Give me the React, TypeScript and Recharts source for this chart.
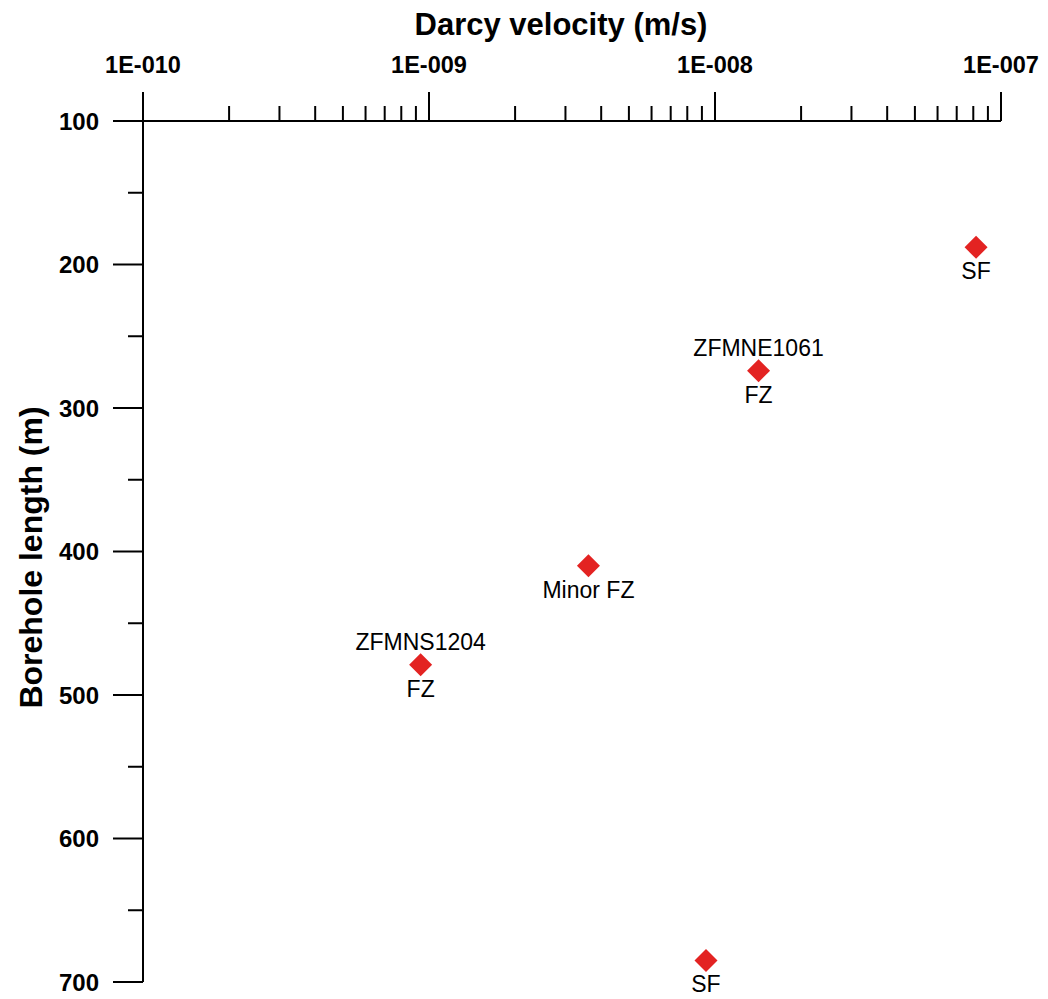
import React from "react";
import { ScatterChart, Scatter, XAxis, YAxis } from "recharts";

// Darcy velocity (m/s) per measured section
const velocity = [8.18e-8, 1.42e-8, 3.61e-9, 9.35e-10, 9.3e-9];
// Borehole length (m)
const boreholeLength = [188, 274, 410, 479, 685];
// Structure names written above the markers
const structureName = ["", "ZFMNE1061", "", "ZFMNS1204", ""];
// Feature types written below the markers
const featureType = ["SF", "FZ", "Minor FZ", "FZ", "SF"];

const xMajorTicks = [1e-10, 1e-9, 1e-8, 1e-7];
const xTickLabels = ["1E-010", "1E-009", "1E-008", "1E-007"];
const yMajorTicks = [100, 200, 300, 400, 500, 600, 700];
const yMinorTicks = [150, 250, 350, 450, 550, 650];

const FONT = "'Liberation Sans', Arial, Helvetica, sans-serif";
const RED = "#e32322";

const points = velocity.map((v, i) => ({
    v,
    depth: boreholeLength[i],
    above: structureName[i],
    below: featureType[i],
}));

// 2..9 subdivisions inside each decade
const xMinorTicks: number[] = [];
xMajorTicks.slice(0, -1).forEach((d) => {
    for (let k = 2; k <= 9; k++) xMinorTicks.push(d * k);
});
const xTicks = [...xMajorTicks, ...xMinorTicks].sort((a, b) => a - b);
const yTicks = [...yMajorTicks, ...yMinorTicks].sort((a, b) => a - b);

function XTick({ x, y, payload }: any) {
    const idx = xMajorTicks.findIndex((t) => Math.abs(t - payload.value) / t < 1e-6);
    const major = idx >= 0;
    return (
        <g>
            <line x1={x} x2={x} y1={y} y2={y - (major ? 29 : 15)} stroke="#000" strokeWidth={2} />
            {major && (
                <text x={x} y={y - 48} textAnchor="middle" fontSize={23.5} fontWeight="bold" fontFamily={FONT} fill="#000">
                    {xTickLabels[idx]}
                </text>
            )}
        </g>
    );
}

function YTick({ x, y, payload }: any) {
    const major = yMajorTicks.includes(payload.value);
    return (
        <g>
            <line x1={x} x2={x - (major ? 30 : 15)} y1={y} y2={y} stroke="#000" strokeWidth={2} />
            {major && (
                <text x={x - 44} y={y + 8.5} textAnchor="end" fontSize={24} fontWeight="bold" fontFamily={FONT} fill="#000">
                    {payload.value}
                </text>
            )}
        </g>
    );
}

function Diamond({ cx, cy, payload }: any) {
    const r = 11.5;
    return (
        <g>
            <path d={`M${cx},${cy - r}L${cx + r},${cy}L${cx},${cy + r}L${cx - r},${cy}Z`} fill={RED} />
            {payload.above && (
                <text x={cx} y={cy - 15} textAnchor="middle" fontSize={23} fontFamily={FONT} fill="#000">
                    {payload.above}
                </text>
            )}
            {payload.below && (
                <text x={cx} y={cy + 32} textAnchor="middle" fontSize={23} fontFamily={FONT} fill="#000">
                    {payload.below}
                </text>
            )}
        </g>
    );
}

function XTitle({ viewBox }: any) {
    const { x, y, width } = viewBox;
    return (
        <text x={x + width / 2 - 11} y={y + 27} textAnchor="middle" fontSize={31} fontWeight="bold" fontFamily={FONT} fill="#000">
            Darcy velocity (m/s)
        </text>
    );
}

function YTitle({ viewBox }: any) {
    const { x, y, height } = viewBox;
    const cx = x + 34;
    const cy = y + height / 2 + 6;
    return (
        <text x={cx} y={cy} transform={`rotate(-90 ${cx} ${cy})`} textAnchor="middle" fontSize={32} fontWeight="bold" fontFamily={FONT} fill="#000">
            Borehole length (m)
        </text>
    );
}

export default function App() {
    return (
        <div style={{ position: "absolute", left: 8, top: 8, width: 1040, height: 991, fontFamily: FONT }}>
            <style>{"html,body{margin:0;overflow:hidden}"}</style>
            <ScatterChart width={1040} height={991} margin={{ top: 0, right: 47, bottom: 17, left: 0 }}>
                <XAxis
                    dataKey="v"
                    type="number"
                    scale="log"
                    orientation="top"
                    domain={[1e-10, 1e-7]}
                    ticks={xTicks}
                    interval={0}
                    height={113}
                    tickSize={0}
                    tickMargin={0}
                    tickLine={false}
                    axisLine={{ stroke: "#000", strokeWidth: 2 }}
                    tick={<XTick />}
                    label={(props: any) => <XTitle {...props} />}
                />
                <YAxis
                    dataKey="depth"
                    type="number"
                    domain={[100, 700]}
                    reversed
                    ticks={yTicks}
                    interval={0}
                    width={135}
                    tickSize={0}
                    tickMargin={0}
                    tickLine={false}
                    axisLine={{ stroke: "#000", strokeWidth: 2 }}
                    tick={<YTick />}
                    label={(props: any) => <YTitle {...props} />}
                />
                <Scatter data={points} shape={(p: any) => <Diamond {...p} />} isAnimationActive={false} />
            </ScatterChart>
        </div>
    );
}
